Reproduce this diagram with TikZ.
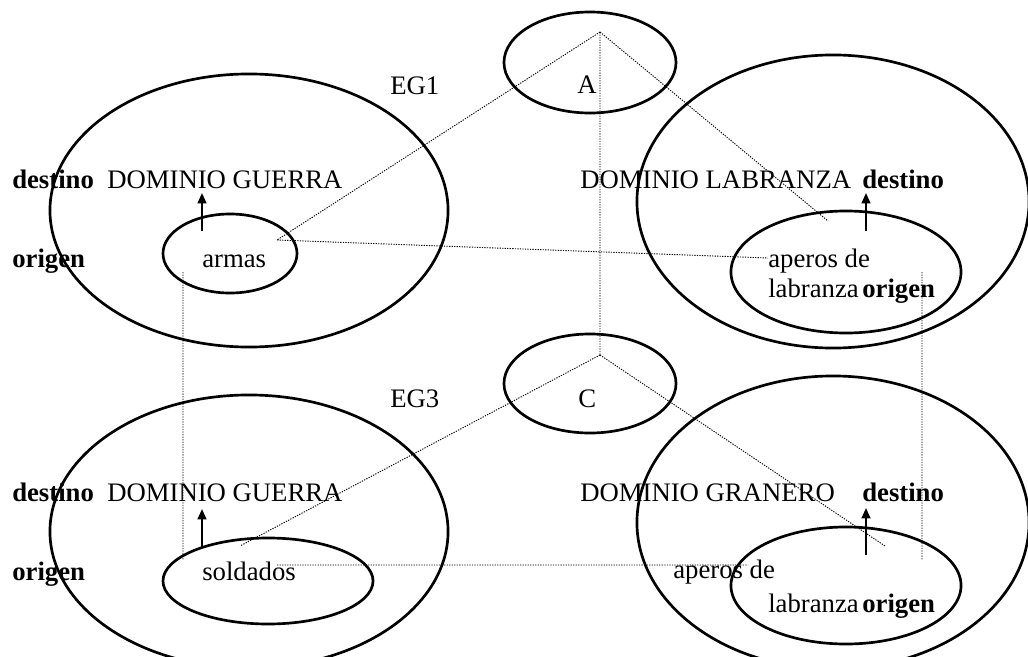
\documentclass[tikz,border=0pt]{standalone}
\usepackage{fontspec}
\setmainfont{Liberation Serif}
\usetikzlibrary{shapes.geometric, arrows.meta}
\tikzset{
	dominio/.style 2 args={draw, ellipse, line width=1.9pt, inner sep=0pt, minimum width=#1, minimum height=#2},
	txt/.style={anchor=base west, inner sep=0pt, font=\fontsize{19}{22}\selectfont},
	neg/.style={txt, font=\fontsize{19}{22}\selectfont\bfseries},
	flecha/.style={-{Triangle[length=0.26cm, width=0.22cm]}, line width=1.4pt},
	proy/.style={line width=0.65pt, dash pattern=on 0.9pt off 0.9pt, black},
}

\begin{document}
\begin{tikzpicture}[x=0.025cm, y=-0.025cm]
		\useasboundingbox (0,0) rectangle (1028,657);
		% dominios (elipses)
		\node[dominio={9.95cm}{6.825cm}] (DG1) at (249,210.5) {};
		\node[dominio={3.35cm}{1.975cm}] (ARM) at (230,253.5) {};
		\node[dominio={9.8cm}{7.325cm}] (DL) at (833,201.5) {};
		\node[dominio={5.75cm}{3.05cm}] (APE1) at (846,272) {};
		\node[dominio={4.3cm}{2.525cm}] (EA) at (590,62.5) {};
		\node[dominio={9.95cm}{6.825cm}] (DG2) at (249,531.5) {};
		\node[dominio={5.25cm}{2.15cm}] (SOL) at (268,581) {};
		\node[dominio={9.8cm}{7.325cm}] (DGR) at (833,522.5) {};
		\node[dominio={5.75cm}{2.925cm}] (APE2) at (846,585.5) {};
		\node[dominio={4.3cm}{2.475cm}] (EC) at (590,383.5) {};
		%
		\node[txt] (EG1) at (390,95) {EG1};
		\node[txt] (LA) at (577,94) {A};
		\node[neg] (DST1) at (12,188) {destino};
		\node[txt] (TDG1) at (107,188) {DOMINIO GUERRA};
		\node[neg] (ORG1) at (12,267) {origen};
		\node[txt] (TARM) at (202,267) {armas};
		\node[txt] (TDL) at (580,188) {DOMINIO LABRANZA};
		\node[neg] (DST2) at (862,188) {destino};
		\node[txt] (TAP1) at (768,267) {aperos de};
		\node[txt] (TLB1) at (768,297) {labranza};
		\node[neg] (ORG2) at (862,297) {origen};
		%
		\node[txt] (EG3) at (390,407) {EG3};
		\node[txt] (LC) at (578,407) {C};
		\node[neg] (DST3) at (12,501) {destino};
		\node[txt] (TDG2) at (107,501) {DOMINIO GUERRA};
		\node[neg] (ORG3) at (12,580) {origen};
		\node[txt] (TSOL) at (202,580) {soldados};
		\node[txt] (TDGR) at (580,501) {DOMINIO GRANERO};
		\node[neg] (DST4) at (862,501) {destino};
		\node[txt] (TAP2) at (673,578) {aperos de};
		\node[txt] (TLB2) at (768,612) {labranza};
		\node[neg] (ORG4) at (862,612) {origen};
		%
		\coordinate (PA) at (600,32);
		\coordinate (PC) at (600,355);
		\coordinate (PARM) at (277,240);
		\coordinate (PDL) at (828,221);
		\coordinate (PAPE1) at (768,258);
		\coordinate (PSOL) at (240,546);
		\coordinate (PDGR) at (885,546);
		\coordinate (HSOL) at (277,565);
		\coordinate (HAPE2) at (748,565);
		\coordinate (VI1) at (183,272);
		\coordinate (VI2) at (183,560);
		\coordinate (VD1) at (922,272);
		\coordinate (VD2) at (922,560);
		%
		\coordinate (F1a) at (202,231);
		\coordinate (F1b) at (202,193);
		\coordinate (F2a) at (866,231);
		\coordinate (F2b) at (866,193);
		\coordinate (F3a) at (202,547);
		\coordinate (F3b) at (202,509);
		\coordinate (F4a) at (866,555);
		\coordinate (F4b) at (866,508);
		%
		\draw[proy]
			(PA) -- (PARM)
			(PA) -- (PDL)
			(PA) -- (PC)
			(PARM) -- (PAPE1)
			(PC) -- (PSOL)
			(PC) -- (PDGR)
			(HSOL) -- (HAPE2)
			(VI1) -- (VI2)
			(VD1) -- (VD2)
		;
		\draw[flecha] (F1a) -- (F1b);
		\draw[flecha] (F2a) -- (F2b);
		\draw[flecha] (F3a) -- (F3b);
		\draw[flecha] (F4a) -- (F4b);
	\end{tikzpicture}
\end{document}
